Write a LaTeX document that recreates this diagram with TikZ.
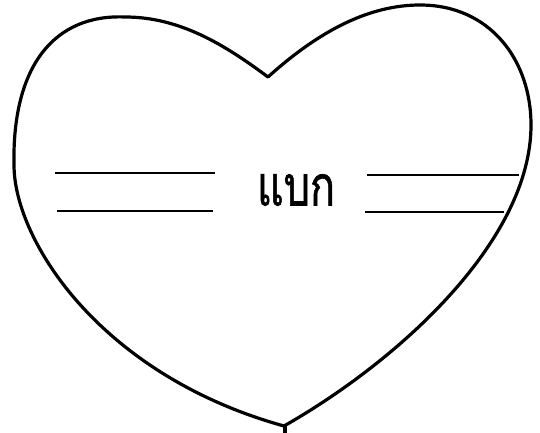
\documentclass[tikz,border=0pt]{standalone}
\usepackage{fontspec}
\newfontfamily\thaifont[Script=Thai,FakeBold=1.2]{Loma}
\begin{document}
\begin{tikzpicture}[x=1pt,y=-1pt,
  outline/.style={line width=3.2pt,line join=round,line cap=round,black},
  rule/.style={line width=2.4pt,black}]
\useasboundingbox[fill=white] (0,0) rectangle (540,433);
\coordinate (notch) at (268,77);
\coordinate (bottom) at (284,426);
% heart
\draw[outline] (notch)
  .. controls (225,45) and (180,17) .. (125,17)
  .. controls (55,14) and (12,65) .. (14,165)
  .. controls (14,240) and (100,375) .. (bottom)
  .. controls (400,360) and (531,240) .. (531,125)
  .. controls (531,60) and (490,5) .. (420,5)
  .. controls (370,5) and (320,30) .. (notch) -- cycle;
\coordinate (stemtop) at (285,426);
\coordinate (stembot) at (285,433);
\draw[outline] (stemtop) -- (stembot);
% lines
\coordinate (l1a) at (55,173); \coordinate (l1b) at (215,173);
\coordinate (l2a) at (57,211); \coordinate (l2b) at (213,211);
\coordinate (r1a) at (367,175); \coordinate (r1b) at (519,175);
\coordinate (r2a) at (365,212); \coordinate (r2b) at (504,212);
\draw[rule] (l1a) -- (l1b);
\draw[rule] (l2a) -- (l2b);
\draw[rule] (r1a) -- (r1b);
\draw[rule] (r2a) -- (r2b);
\node[inner sep=0pt,xscale=0.74,font=\thaifont\fontsize{56}{64}\selectfont] (word) at (296,190) {แบก};
\end{tikzpicture}
\end{document}
